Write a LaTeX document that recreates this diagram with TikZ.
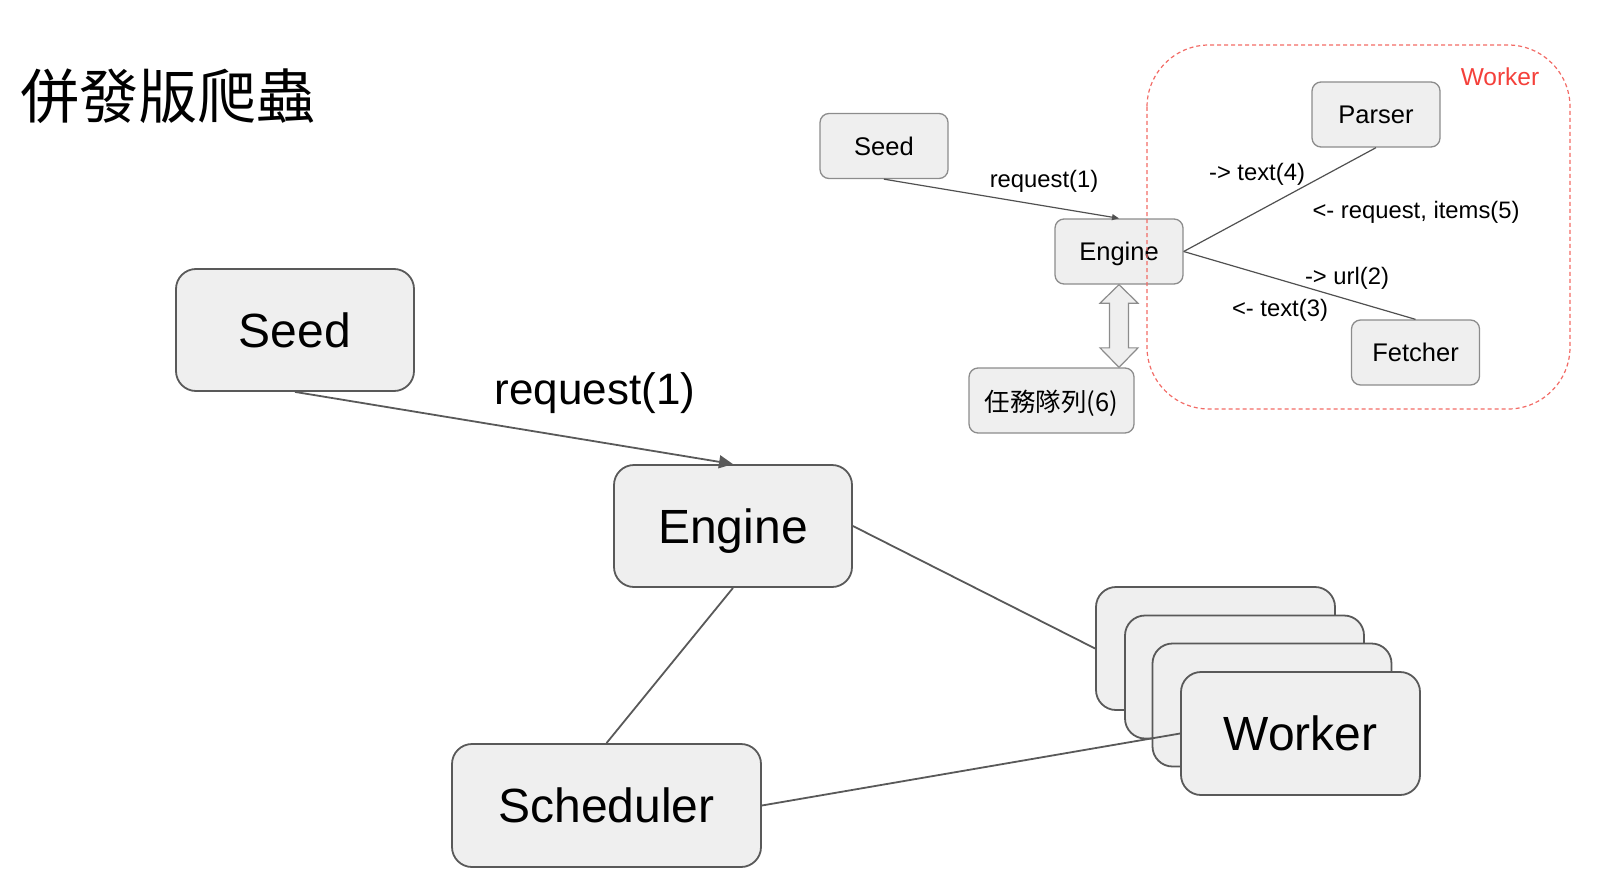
\documentclass[tikz,border=0pt]{standalone}
\usepackage{fontspec}
\setmainfont{Liberation Sans}
\newfontfamily\cjk{Noto Sans CJK TC}
\usetikzlibrary{arrows.meta,calc}
\definecolor{boxfill}{HTML}{EFEFEF}
\definecolor{boxline}{HTML}{595959}
\definecolor{sboxline}{HTML}{8C8C8C}
\definecolor{wred}{HTML}{F4403A}
\definecolor{dred}{HTML}{F26B66}
\tikzset{
  bigbox/.style={draw=boxline, fill=boxfill, line width=1.8pt, rounded corners=20pt,
    minimum width=238pt, minimum height=122pt, inner sep=0pt, text depth=0pt,
    font=\fontsize{48}{56}\selectfont},
  smallbox/.style={draw=sboxline, fill=boxfill, line width=1.3pt, rounded corners=9pt,
    minimum width=128pt, minimum height=65pt, inner sep=0pt, text depth=0pt,
    font=\fontsize{25.5}{30}\selectfont},
  bigline/.style={draw=boxline, line width=1.8pt},
  smallline/.style={draw=boxline!90!black, line width=1.2pt},
  slabel/.style={font=\fontsize{23.8}{28}\selectfont, inner sep=0pt},
}
\begin{document}
\begin{tikzpicture}[x=1pt,y=-1pt]
\useasboundingbox (0,0) rectangle (1602,888);
% title
\node[anchor=west, inner sep=0pt, font=\cjk\fontsize{59}{64}\selectfont] (title) at (20,96) {併發版爬蟲};
% big diagram
\node[bigbox] (seed) at (295,330) {Seed};
\node[bigbox] (engine) at (733,526) {Engine};
\node[bigbox, minimum width=309pt, minimum height=123pt] (sched) at (606.5,805.5) {Scheduler};
\node[bigbox, minimum width=239pt, minimum height=123pt] (w1) at (1215.5,648.5) {};
\node[bigbox, minimum width=239pt, minimum height=123pt] (w2) at (1244.5,677) {};
\node[bigbox, minimum width=239pt, minimum height=123pt] (w3) at (1272,705) {};
\node[bigbox, minimum width=239pt, minimum height=123pt] (w4) at (1300.5,733.5) {Worker};
\draw[bigline, -{Triangle[length=14pt,width=13pt]}] (seed.south) -- (engine.north);
\node[inner sep=0pt, font=\fontsize{44}{52}\selectfont] (req) at (595,393) {request(1)};
\draw[bigline] (engine.east) -- (w1.west);
\draw[bigline] (engine.south) -- (sched.north);
\draw[bigline] (sched.east) -- (w4.west);
% small diagram
\node[smallbox] (sseed) at (884,146) {Seed};
\node[smallbox] (sengine) at (1119,251.5) {Engine};
\node[smallbox] (parser) at (1376,114.5) {Parser};
\node[smallbox] (fetcher) at (1415.5,352.5) {Fetcher};
\node[smallbox, minimum width=165pt, font=\cjk\fontsize{25.5}{30}\selectfont] (queue) at (1051.5,400.5) {任務隊列(6)};
\draw[smallline, -{Triangle[length=7pt,width=6pt]}] (sseed.south) -- (sengine.north);
\draw[smallline] (sengine.east) -- (parser.south);
\draw[smallline] (sengine.east) -- (fetcher.north);
\draw[draw=sboxline, fill=boxfill, line width=1.2pt]
  (sengine.south)
  -- ($(sengine.south)+(19,18.5)$) -- ($(sengine.south)+(9.5,18.5)$)
  -- ($(queue.north-|sengine.south)+(9.5,-19.5)$) -- ($(queue.north-|sengine.south)+(19,-19.5)$)
  -- (queue.north-|sengine.south)
  -- ($(queue.north-|sengine.south)+(-19,-19.5)$) -- ($(queue.north-|sengine.south)+(-9.5,-19.5)$)
  -- ($(sengine.south)+(-9.5,18.5)$) -- ($(sengine.south)+(-19,18.5)$) -- cycle;
\node[slabel] (l1) at (1044,181) {request(1)};
\node[slabel] (l4) at (1257,174) {-> text(4)};
\node[slabel] (l5) at (1416,212) {<- request, items(5)};
\node[slabel] (l2) at (1347,278) {-> url(2)};
\node[slabel] (l3) at (1280,310) {<- text(3)};
% worker dashed region
\draw[dred, line width=1.2pt, dash pattern=on 4pt off 3pt, rounded corners=62pt] (1147,45) rectangle (1570,409);
\node[inner sep=0pt, text=wred, font=\fontsize{24.5}{30}\selectfont] (wlabel) at (1500,77) {Worker};
\end{tikzpicture}
\end{document}
